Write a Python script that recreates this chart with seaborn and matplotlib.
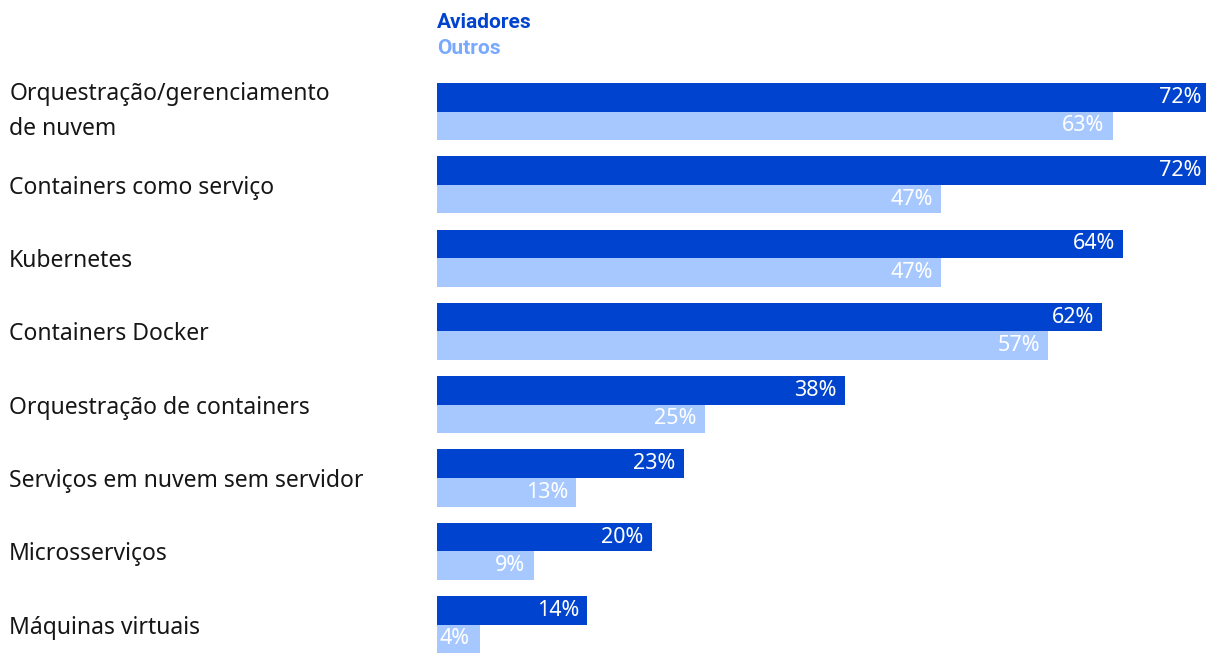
import pandas as pd
import matplotlib
matplotlib.use("Agg")
import matplotlib.pyplot as plt
import seaborn as sns

# Dados
categorias = ['Orquestração/gerenciamento\nde nuvem', 'Containers como serviço', 'Kubernetes',
              'Containers Docker', 'Orquestração de containers', 'Serviços em nuvem sem servidor',
              'Microsserviços', 'Máquinas virtuais']
aviadores = [72, 72, 64, 62, 38, 23, 20, 14]
outros = [63, 47, 47, 57, 25, 13, 9, 4]
grupos = ['Aviadores', 'Outros']

cor_escura = '#0043ce'
cor_clara = '#a6c8ff'
cor_legenda_clara = '#78a9ff'

df = pd.DataFrame({
    'categoria': categorias * 2,
    'valor': aviadores + outros,
    'grupo': ['Aviadores'] * len(categorias) + ['Outros'] * len(categorias),
})

sns.set_style('white')
plt.rcParams['font.family'] = ['Noto Sans', 'DejaVu Sans']

fig = plt.figure(figsize=(12.06, 6.59), dpi=100)
ax = fig.add_axes([437 / 1206, -0.0034, 1 - 437 / 1206, 0.8898])

sns.barplot(data=df, y='categoria', x='valor', hue='grupo', hue_order=grupos,
            order=categorias, orient='h', palette=[cor_escura, cor_clara],
            width=0.78, legend=False, saturation=1, linewidth=0, ax=ax)

ax.set_xlim(0, 71.7)
ax.set_xlabel('')
ax.set_ylabel('')
ax.set_xticks([])
for s in ax.spines.values():
    s.set_visible(False)

# Rótulos das categorias alinhados à esquerda
ax.tick_params(axis='y', length=0, pad=308, labelsize=16.5, labelcolor='#161616')
for lbl in ax.get_yticklabels():
    lbl.set_horizontalalignment('left')
    if '\n' in lbl.get_text():
        lbl.set_multialignment('left')
        lbl.set_linespacing(1.65)
        lbl.set_verticalalignment('center')

# Rótulos de valores
for cont in ax.containers:
    for p in cont.patches:
        w = p.get_width()
        yc = p.get_y() + p.get_height() / 2
        if w < 6:
            ax.annotate(f'{w:.0f}%', (0, yc), xytext=(2, 0), textcoords='offset points',
                        ha='left', va='center', color='white', fontsize=15.5,
                        annotation_clip=False)
        else:
            ax.annotate(f'{w:.0f}%', (w, yc), xytext=(-6, 0), textcoords='offset points',
                        ha='right', va='center', color='white', fontsize=15.5,
                        annotation_clip=False)

# Legenda
fig.text(437 / 1206, 1 - 23 / 659, 'Aviadores', color=cor_escura, fontsize=15,
         fontweight='bold', family=['Roboto', 'DejaVu Sans'], va='center', ha='left')
fig.text(437 / 1206, 1 - 49 / 659, 'Outros', color=cor_legenda_clara, fontsize=15,
         fontweight='bold', family=['Roboto', 'DejaVu Sans'], va='center', ha='left')

fig.savefig('out.png', dpi=100)
